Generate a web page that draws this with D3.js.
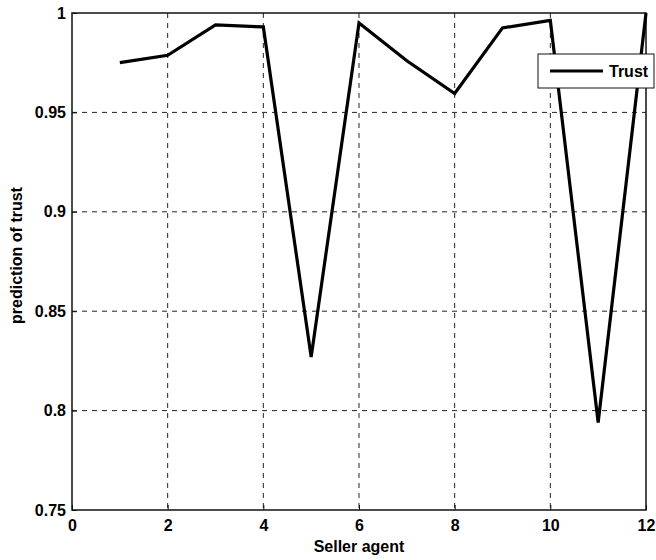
<!DOCTYPE html>
<html>
<head>
<meta charset="utf-8">
<script src="https://cdn.jsdelivr.net/npm/d3@7"></script>
<style>
  body { margin: 0; background: #fff; }
  text { font-family: "Liberation Sans", Arial, sans-serif; }
</style>
</head>
<body>
<div id="chart"></div>
<script>
const sellers = [1, 2, 3, 4, 5, 6, 7, 8, 9, 10, 11, 12];
const trust = [0.975, 0.9787, 0.994, 0.993, 0.827, 0.995, 0.976, 0.9595, 0.9925, 0.9963, 0.794, 1.0];
const xTicks = [0, 2, 4, 6, 8, 10, 12];
const yTicks = [0.75, 0.8, 0.85, 0.9, 0.95, 1];

const margin = { top: 13, right: 10, bottom: 50, left: 72 };
const width = 656 - margin.left - margin.right;
const height = 560 - margin.top - margin.bottom;

const svg = d3.select("#chart")
    .append("svg")
    .attr("width", 656)
    .attr("height", 560)
    .append("g")
    .attr("transform", `translate(${margin.left},${margin.top})`);

const xScale = d3.scaleLinear().domain([0, 12]).range([0, width]);
const yScale = d3.scaleLinear().domain([0.75, 1]).range([height, 0]);

// grid
svg.selectAll(".x-grid")
    .data(xTicks.slice(1, -1))
    .enter()
    .append("line")
    .attr("x1", d => xScale(d))
    .attr("x2", d => xScale(d))
    .attr("y1", 0)
    .attr("y2", height)
    .attr("stroke", "#222")
    .attr("stroke-width", 1)
    .attr("stroke-dasharray", "5,5");

svg.selectAll(".y-grid")
    .data(yTicks.slice(1, -1))
    .enter()
    .append("line")
    .attr("x1", 0)
    .attr("x2", width)
    .attr("y1", d => yScale(d))
    .attr("y2", d => yScale(d))
    .attr("stroke", "#222")
    .attr("stroke-width", 1)
    .attr("stroke-dasharray", "5,5");

// frame
svg.append("rect")
    .attr("x", 0)
    .attr("y", 0)
    .attr("width", width)
    .attr("height", height)
    .attr("fill", "none")
    .attr("stroke", "#111")
    .attr("stroke-width", 1.5);

// axes
const xAxis = svg.append("g")
    .attr("transform", `translate(0,${height})`)
    .call(d3.axisBottom(xScale).tickValues(xTicks).tickSize(-5).tickPadding(10).tickFormat(d3.format("d")));
const yAxis = svg.append("g")
    .call(d3.axisLeft(yScale).tickValues(yTicks).tickSize(-5).tickPadding(6).tickFormat(d => d === 1 ? "1" : d3.format(".2~f")(d)));

[xAxis, yAxis].forEach(a => {
    a.select(".domain").remove();
    a.selectAll("line").attr("stroke", "#111");
    a.selectAll("text")
        .style("font-size", "16px")
        .style("font-weight", "bold")
        .attr("fill", "#000");
});

svg.append("text")
    .attr("x", width / 2)
    .attr("y", height + 42)
    .attr("text-anchor", "middle")
    .style("font-size", "16px")
    .style("font-weight", "bold")
    .text("Seller agent");

svg.append("text")
    .attr("transform", "rotate(-90)")
    .attr("x", -height / 2 + 6)
    .attr("y", -50)
    .attr("text-anchor", "middle")
    .style("font-size", "16px")
    .style("font-weight", "bold")
    .text("prediction of trust");

const line = d3.line()
    .x((d, i) => xScale(sellers[i]))
    .y(d => yScale(d));

svg.append("path")
    .datum(trust)
    .attr("d", line)
    .attr("fill", "none")
    .attr("stroke", "#000")
    .attr("stroke-width", 3.2)
    .attr("stroke-linejoin", "miter");

// legend
const legend = svg.append("g")
    .attr("transform", `translate(${width - 108},41)`);
legend.append("rect")
    .attr("width", 116)
    .attr("height", 34)
    .attr("fill", "#fff")
    .attr("stroke", "#111")
    .attr("stroke-width", 1);
legend.append("line")
    .attr("x1", 12)
    .attr("x2", 65)
    .attr("y1", 17)
    .attr("y2", 17)
    .attr("stroke", "#000")
    .attr("stroke-width", 3.2);
legend.append("text")
    .attr("x", 71)
    .attr("y", 23)
    .style("font-size", "16px")
    .style("font-weight", "bold")
    .text("Trust");
</script>
</body>
</html>
